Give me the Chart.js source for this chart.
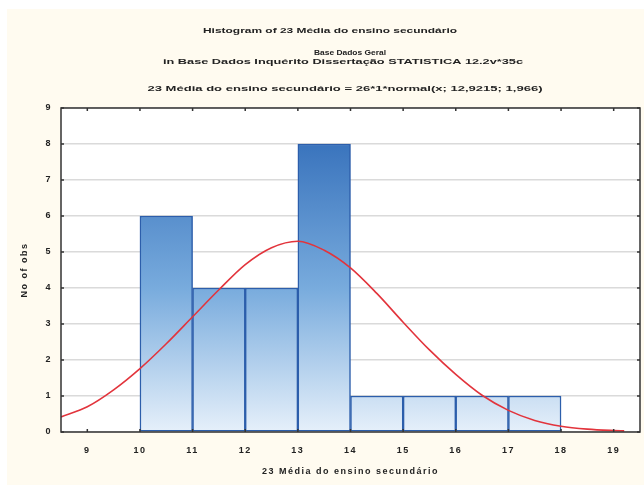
<!DOCTYPE html>
<html>
<head>
<meta charset="utf-8">
<style>
  html, body { margin: 0; padding: 0; background: #fff; }
  #wrap { position: relative; width: 644px; height: 485px; }
</style>
<script src="https://cdn.jsdelivr.net/npm/chart.js@4.4.0/dist/chart.umd.min.js"></script>
</head>
<body>
<div id="wrap"><canvas id="histChart" width="644" height="485"></canvas></div>
<script>
const titleLines = [
  'Histogram of 23 Média do ensino secundário',
  'Base Dados Geral',
  'in Base Dados Inquérito Dissertação STATISTICA 12.2v*35c',
  '23 Média do ensino secundário = 26*1*normal(x; 12,9215; 1,966)'
];
const xTitle = '23 Média do ensino secundário';
const yTitle = 'No of obs';

// histogram bins (centre of each 1-wide class) and counts
const binCenters = [10.5, 11.5, 12.5, 13.5, 14.5, 15.5, 16.5, 17.5];
const counts = [6, 4, 4, 8, 1, 1, 1, 1];

// fitted normal curve
const curveX = [8.5, 9, 9.5, 10, 10.5, 11, 11.5, 12, 12.5, 13, 13.5, 14, 14.5, 15, 15.5, 16, 16.5, 17, 17.5, 18, 18.5, 19, 19.2];
const curveY = [0.42, 0.70, 1.17, 1.76, 2.45, 3.20, 3.95, 4.65, 5.12, 5.30, 5.05, 4.56, 3.85, 3.05, 2.28, 1.60, 1.02, 0.60, 0.32, 0.16, 0.08, 0.04, 0.03];

const xTicks = [9, 10, 11, 12, 13, 14, 15, 16, 17, 18, 19];
const yTicks = [0, 1, 2, 3, 4, 5, 6, 7, 8, 9];

const FONT = '"Liberation Sans", Arial, sans-serif';

// cream page + global letter spacing (text in the scan is stretched)
const backdrop = {
  id: 'backdrop',
  beforeDraw(chart) {
    const ctx = chart.ctx;
    const a = chart.chartArea;
    ctx.save();
    ctx.fillStyle = '#ffffff';
    ctx.fillRect(0, 0, chart.width, chart.height);
    ctx.fillStyle = '#fffbf0';
    ctx.fillRect(7, 9, chart.width - 7, chart.height - 9);
    ctx.fillStyle = '#ffffff';
    ctx.fillRect(a.left, a.top, a.right - a.left, a.bottom - a.top);
    ctx.restore();
    ctx.letterSpacing = '1.5px';
  }
};

// STATISTICA style frame with inward tick marks
const frame = {
  id: 'frame',
  afterDatasetsDraw(chart) {
    const { ctx, chartArea: a, scales } = chart;
    ctx.save();
    ctx.strokeStyle = '#333333';
    ctx.lineWidth = 1.5;
    ctx.strokeRect(a.left, a.top, a.right - a.left, a.bottom - a.top);
    ctx.beginPath();
    xTicks.forEach(v => {
      const x = scales.x.getPixelForValue(v);
      ctx.moveTo(x, a.bottom); ctx.lineTo(x, a.bottom - 3);
      ctx.moveTo(x, a.top); ctx.lineTo(x, a.top + 3);
    });
    yTicks.forEach(v => {
      const y = scales.y.getPixelForValue(v);
      ctx.moveTo(a.left, y); ctx.lineTo(a.left + 3, y);
      ctx.moveTo(a.right, y); ctx.lineTo(a.right - 3, y);
    });
    ctx.stroke();
    ctx.restore();
  }
};

// four title lines, each stretched to the width it has in the scan
const titles = {
  id: 'titles',
  afterDraw(chart) {
    const ctx = chart.ctx;
    const ys = [31, 53, 62, 89];
    const cx = [330, 350, 343, 345];
    const widths = [254, 72, 360, 395];
    ctx.save();
    ctx.letterSpacing = '0px';
    ctx.font = 'bold 8px ' + FONT;
    ctx.fillStyle = '#222222';
    ctx.textAlign = 'center';
    ctx.textBaseline = 'middle';
    titleLines.forEach((t, i) => {
      const w = ctx.measureText(t).width;
      ctx.save();
      ctx.translate(cx[i], ys[i]);
      ctx.scale(widths[i] / w, 1);
      ctx.fillText(t, 0, 0);
      ctx.restore();
    });
    ctx.restore();
  }
};

const ctx = document.getElementById('histChart').getContext('2d');
new Chart(ctx, {
  type: 'bar',
  data: {
    datasets: [
      {
        type: 'line',
        data: curveX.map((x, i) => ({ x: x, y: curveY[i] })),
        borderColor: '#e2343c',
        borderWidth: 1.6,
        pointRadius: 0,
        cubicInterpolationMode: 'monotone',
        order: 0
      },
      {
        type: 'bar',
        data: binCenters.map((x, i) => ({ x: x, y: counts[i] })),
        barPercentage: 1,
        categoryPercentage: 1,
        borderWidth: 1.5,
        borderColor: '#2c5eab',
        borderSkipped: false,
        backgroundColor: function (context) {
          const chart = context.chart;
          const area = chart.chartArea;
          if (!area) return '#7aaee0';
          const top = chart.scales.y.getPixelForValue(8);
          const g = chart.ctx.createLinearGradient(0, top, 0, area.bottom);
          g.addColorStop(0, '#3a74bd');
          g.addColorStop(0.5, '#78abdd');
          g.addColorStop(1, '#e6f0fa');
          return g;
        },
        order: 1
      }
    ]
  },
  options: {
    responsive: false,
    devicePixelRatio: 1,
    animation: false,
    layout: { padding: { top: 108, right: 4, left: 0, bottom: 0 } },
    plugins: {
      legend: { display: false },
      tooltip: { enabled: false }
    },
    scales: {
      x: {
        type: 'linear',
        offset: false,
        min: 8.5,
        max: 19.5,
        afterBuildTicks: s => { s.ticks = xTicks.map(v => ({ value: v })); },
        afterFit: s => { s.height = 53; },
        grid: { display: false, drawTicks: false },
        border: { display: false },
        ticks: { font: { family: FONT, size: 9, weight: 'bold' }, color: '#222', padding: 13, maxRotation: 0, autoSkip: false },
        title: { display: true, text: xTitle, font: { family: FONT, size: 9, weight: 'bold' }, color: '#222', padding: { top: 0, bottom: 8 } }
      },
      y: {
        min: 0,
        max: 9,
        afterBuildTicks: s => { s.ticks = yTicks.map(v => ({ value: v })); },
        afterFit: s => { s.width = 61; },
        grid: { color: '#dadada', lineWidth: 1.5, drawTicks: false },
        border: { display: false },
        ticks: { font: { family: FONT, size: 9, weight: 'bold' }, color: '#222', padding: 9 },
        title: { display: true, text: yTitle, font: { family: FONT, size: 9, weight: 'bold' }, color: '#222', padding: { top: 19 } }
      }
    }
  },
  plugins: [backdrop, frame, titles]
});
</script>
</body>
</html>
